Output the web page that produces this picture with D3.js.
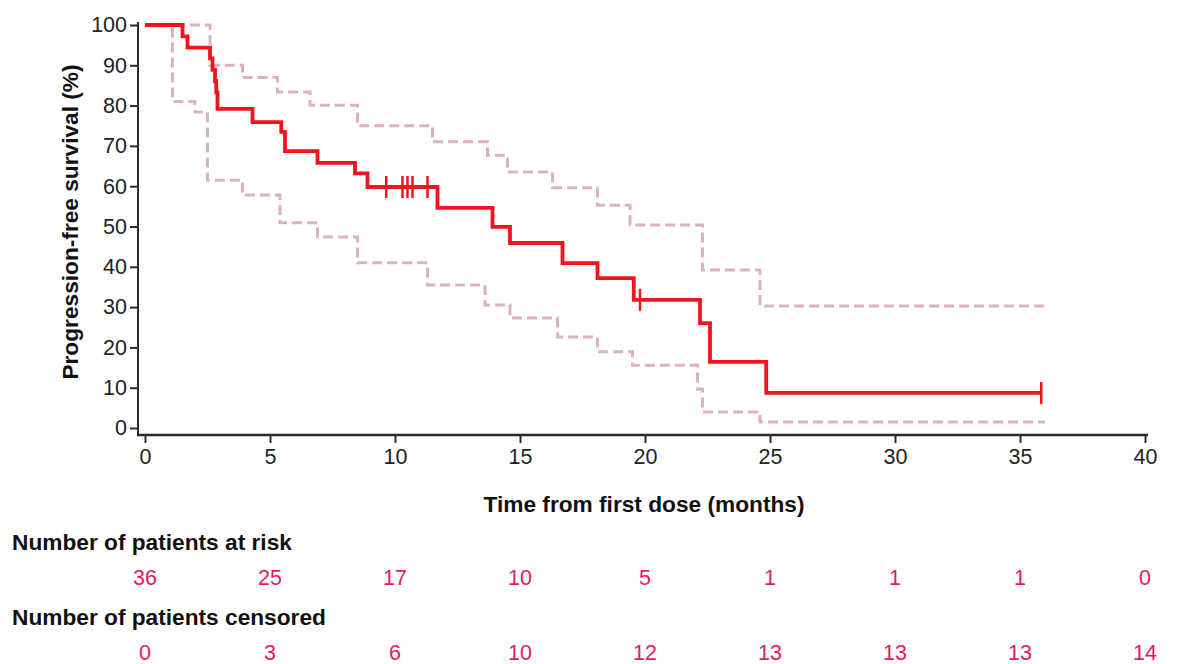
<!DOCTYPE html>
<html>
<head>
<meta charset="utf-8">
<script src="https://d3js.org/d3.v7.min.js"></script>
<style>
  html, body { margin: 0; padding: 0; background: #fff; }
  svg { display: block; }
  text { font-family: "Liberation Sans", Arial, Helvetica, sans-serif; }
</style>
</head>
<body>
<svg id="chart" width="1181" height="664"></svg>
<script>
// ---- Data ----
const kmTime = [0, 1.5, 1.7, 2.6, 2.7, 2.8, 2.85, 2.9, 4.3, 5.45, 5.6, 6.9, 8.4, 8.9, 11.7, 13.9, 14.6, 16.7, 18.1, 19.55, 22.2, 22.6, 24.85, 35.85];
const kmSurv = [100, 97.2, 94.4, 91.7, 88.9, 86.1, 83.3, 79.2, 75.9, 73.5, 68.7, 65.8, 63.2, 59.8, 54.6, 49.9, 45.9, 40.9, 37.2, 31.8, 26.0, 16.4, 8.7, 8.7];
const censorTimes = [9.65, 10.3, 10.5, 10.7, 11.3, 19.8, 35.85];

const upperTime = [0, 2.6, 3.9, 5.3, 6.6, 8.5, 11.5, 13.7, 14.5, 16.3, 18.1, 19.4, 22.3, 24.6, 36.0];
const upperVal  = [100, 90.0, 87.0, 83.4, 80.1, 75.0, 71.0, 67.7, 63.5, 59.6, 55.3, 50.4, 39.2, 30.3, 30.3];

const lowerTime = [0, 1.1, 2.0, 2.5, 3.9, 5.4, 6.9, 8.5, 11.3, 13.6, 14.6, 16.5, 18.1, 19.5, 22.1, 22.3, 24.6, 36.0];
const lowerVal  = [100, 81.0, 78.4, 61.5, 57.8, 50.9, 47.4, 41.0, 35.5, 30.5, 27.3, 22.6, 18.9, 15.6, 9.6, 4.0, 1.5, 1.5];

const xTicks = [0, 5, 10, 15, 20, 25, 30, 35, 40];
const yTicks = [0, 10, 20, 30, 40, 50, 60, 70, 80, 90, 100];
const atRisk = [36, 25, 17, 10, 5, 1, 1, 1, 0];
const censored = [0, 3, 6, 10, 12, 13, 13, 13, 14];

const yTitle = "Progression-free survival (%)";
const xTitle = "Time from first dose (months)";
const riskLabel = "Number of patients at risk";
const censLabel = "Number of patients censored";

// ---- Layout ----
const svg = d3.select("#chart");
const x = d3.scaleLinear().domain([0, 40]).range([145, 1145]);
const y = d3.scaleLinear().domain([0, 100]).range([428, 25]);
const axisY = 435;   // x-axis line position
const axisX = 138;   // y-axis line position

const axisColor = "#2b2b2b";
const mainColor = "#f2141c";
const ciColor = "#dcb3bd";
const numColor = "#e8195a";
const fontFam = "'Liberation Sans', Arial, sans-serif";

// Axes lines
svg.append("line").attr("x1", axisX).attr("x2", axisX)
  .attr("y1", y(100) - 3).attr("y2", axisY + 1)
  .attr("stroke", axisColor).attr("stroke-width", 2);
svg.append("line").attr("x1", axisX - 1).attr("x2", x(40) + 3)
  .attr("y1", axisY).attr("y2", axisY)
  .attr("stroke", axisColor).attr("stroke-width", 2.5);

// Y axis ticks via d3.axisLeft
const yAxis = d3.axisLeft(y).tickValues(yTicks).tickSize(8).tickSizeOuter(0).tickPadding(3);
const gy = svg.append("g").attr("transform", `translate(${axisX},0)`).call(yAxis);
gy.select(".domain").remove();
gy.selectAll(".tick line").attr("stroke", axisColor).attr("stroke-width", 2);
gy.selectAll(".tick text").attr("font-size", 21.5).attr("fill", "#222").attr("font-family", fontFam);

// X axis ticks via d3.axisBottom
const xAxis = d3.axisBottom(x).tickValues(xTicks).tickSize(7).tickSizeOuter(0).tickPadding(6);
const gx = svg.append("g").attr("transform", `translate(0,${axisY + 1})`).call(xAxis);
gx.select(".domain").remove();
gx.selectAll(".tick line").attr("stroke", axisColor).attr("stroke-width", 2);
gx.selectAll(".tick text").attr("font-size", 21.5).attr("fill", "#222").attr("font-family", fontFam);

// Step lines
const line = d3.line().x(d => x(d[0])).y(d => y(d[1])).curve(d3.curveStepAfter);
const zip = (a, b) => a.map((t, i) => [t, b[i]]);

svg.append("path").datum(zip(upperTime, upperVal)).attr("d", line)
  .attr("fill", "none").attr("stroke", ciColor).attr("stroke-width", 3)
  .attr("stroke-dasharray", "10,5");
svg.append("path").datum(zip(lowerTime, lowerVal)).attr("d", line)
  .attr("fill", "none").attr("stroke", ciColor).attr("stroke-width", 3)
  .attr("stroke-dasharray", "10,5");

svg.append("path").datum(zip(kmTime, kmSurv)).attr("d", line)
  .attr("fill", "none").attr("stroke", mainColor).attr("stroke-width", 3.8)
  .attr("stroke-linejoin", "miter");

// Censor marks
function survAt(t) {
  let v = kmSurv[0];
  for (let i = 0; i < kmTime.length; i++) { if (kmTime[i] <= t) v = kmSurv[i]; }
  return v;
}
svg.selectAll(".censor").data(censorTimes).enter().append("line")
  .attr("class", "censor")
  .attr("x1", d => x(d)).attr("x2", d => x(d))
  .attr("y1", d => y(survAt(d)) - 11).attr("y2", d => y(survAt(d)) + 11)
  .attr("stroke", mainColor).attr("stroke-width", 2.5);

// Titles
svg.append("text")
  .attr("transform", `translate(78,222) rotate(-90)`)
  .attr("text-anchor", "middle").attr("font-size", 22.7).attr("font-weight", "bold")
  .attr("fill", "#111").text(yTitle);

svg.append("text").attr("x", (x(0) + x(40)) / 2 - 1).attr("y", 512)
  .attr("text-anchor", "middle").attr("font-size", 22.7).attr("font-weight", "bold")
  .attr("fill", "#111").text(xTitle);

// Risk table
svg.append("text").attr("x", 12).attr("y", 550)
  .attr("font-size", 22.7).attr("font-weight", "bold").attr("fill", "#111").text(riskLabel);
svg.selectAll(".risk").data(atRisk).enter().append("text")
  .attr("class", "risk").attr("x", (d, i) => x(xTicks[i])).attr("y", 585)
  .attr("text-anchor", "middle").attr("font-size", 21.5).attr("fill", numColor).text(d => d);

svg.append("text").attr("x", 12).attr("y", 625)
  .attr("font-size", 22.7).attr("font-weight", "bold").attr("fill", "#111").text(censLabel);
svg.selectAll(".cens").data(censored).enter().append("text")
  .attr("class", "cens").attr("x", (d, i) => x(xTicks[i])).attr("y", 660)
  .attr("text-anchor", "middle").attr("font-size", 21.5).attr("fill", numColor).text(d => d);
</script>
</body>
</html>
